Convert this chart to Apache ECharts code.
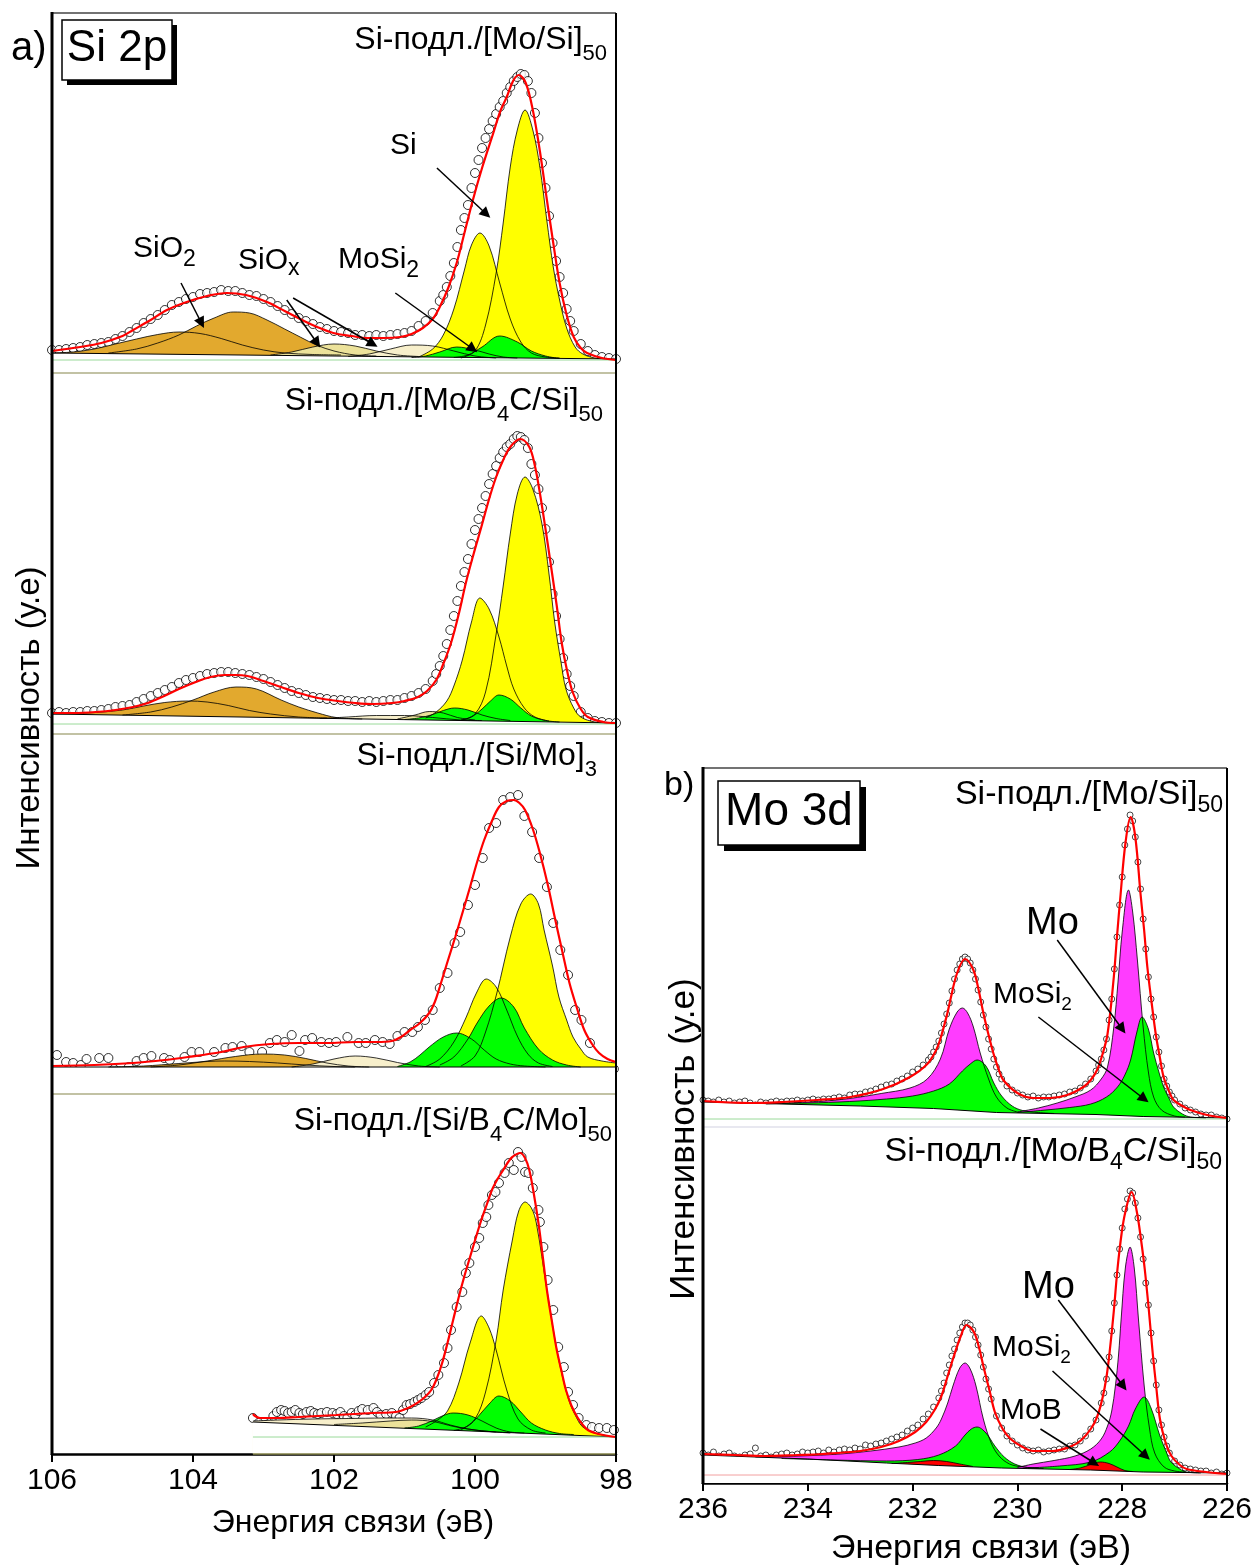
<!DOCTYPE html>
<html>
<head>
<meta charset="utf-8">
<script src="https://cdn.jsdelivr.net/npm/echarts@6/dist/echarts.min.js"></script>
<style>
html,body{margin:0;padding:0;background:#fff;}
#chart{width:1256px;height:1567px;}
</style>
</head>
<body>
<div id="chart"></div>
<script>
// ---------- Si 2p spectra, binding energy (eV) vs intensity (arb. units) ----------
// Panel a1: Si-substrate/[Mo/Si]50
const s1Points = [[106.0,23],[105.9,23],[105.8,24],[105.7,25],[105.6,26],[105.5,28],[105.4,29],[105.3,30],[105.2,31],[105.1,34],[105.0,37],[104.9,41],[104.8,45],[104.7,50],[104.6,54],[104.5,58],[104.4,63],[104.3,68],[104.2,71],[104.1,74],[104.0,76],[103.9,79],[103.8,80],[103.7,81],[103.6,83],[103.5,82],[103.4,82],[103.3,80],[103.2,78],[103.1,77],[103.0,74],[102.9,71],[102.8,67],[102.7,63],[102.6,59],[102.5,55],[102.4,52],[102.3,49],[102.2,46],[102.1,44],[102.0,42],[101.9,41],[101.8,40],[101.7,38],[101.6,38],[101.5,37],[101.4,38],[101.3,37],[101.2,38],[101.1,39],[101.0,40],[100.9,42],[100.8,47],[100.7,52],[100.6,60],[100.5,72],[100.45,78],[100.4,86],[100.35,97],[100.3,110],[100.25,126],[100.2,143],[100.15,155],[100.1,168],[100.05,185],[100.0,200],[99.95,213],[99.9,225],[99.85,235],[99.8,244],[99.75,252],[99.7,259],[99.65,266],[99.6,272],[99.55,280],[99.5,286],[99.45,292],[99.4,296],[99.35,299],[99.3,298],[99.25,292],[99.2,280],[99.15,260],[99.1,235],[99.05,210],[99.0,185],[98.95,157],[98.9,130],[98.85,112],[98.8,96],[98.75,80],[98.7,64],[98.65,52],[98.6,42],[98.5,29],[98.4,22],[98.3,18],[98.2,16],[98.1,15],[98.0,14]];
const s1Fit = [[106.0,22],[105.6,26],[105.3,30],[105.0,37],[104.85,43],[104.6,53],[104.37,63],[104.09,71],[103.8,77],[103.52,80],[103.25,78],[102.95,71],[102.7,62],[102.48,54],[102.24,46],[102.01,40],[101.75,37],[101.53,35],[101.3,35],[101.06,36],[100.9,39],[100.74,45],[100.6,54],[100.5,66],[100.38,85],[100.26,110],[100.15,140],[100.03,173],[99.9,205],[99.74,240],[99.64,262],[99.55,276],[99.46,292],[99.38,298],[99.28,290],[99.18,263],[99.08,222],[98.98,173],[98.89,130],[98.8,90],[98.7,58],[98.6,36],[98.5,25],[98.41,20],[98.2,15],[98.0,13]];
const s1Baseline = [[106,20],[98,14]];
const s1SiO2a = [[106.0,20],[105.7,21],[105.4,24],[105.1,29],[104.8,34],[104.5,38.5],[104.2,41],[103.9,39.5],[103.6,34.5],[103.3,28],[103.0,23],[102.7,20],[102.3,18.5],[101.9,18]];
const s1SiO2b = [[105.2,20],[104.8,24],[104.5,30],[104.2,38],[103.95,47],[103.7,55],[103.43,61],[103.2,60],[102.95,53],[102.7,44],[102.48,36],[102.25,28],[102.0,22],[101.7,18],[101.4,17]];
const s1SiOxA = [[102.9,18],[102.6,21],[102.3,26],[102.0,29],[101.7,27],[101.4,22],[101.1,18],[100.8,16.5]];
const s1SiOxB = [[101.8,16.5],[101.5,19],[101.2,24],[100.9,28],[100.6,27],[100.3,22],[100.0,17],[99.7,15]];
const s1Si32 = [[100.2,15],[100.0,22],[99.85,48],[99.7,100],[99.6,150],[99.5,206],[99.4,243],[99.29,263],[99.18,243],[99.08,206],[98.98,152],[98.89,106],[98.8,73],[98.7,45],[98.58,26],[98.47,19],[98.3,15],[98.1,14]];
const s1Si12 = [[100.8,16],[100.6,24],[100.45,38],[100.3,64],[100.15,103],[100.05,128],[99.93,140],[99.8,127],[99.65,90],[99.5,54],[99.35,31],[99.2,20],[99.0,16],[98.8,15]];
const s1MoSi2a = [[100.9,15.5],[100.7,17],[100.5,21],[100.26,26],[100.0,23],[99.8,19],[99.6,16],[99.4,15]];
const s1MoSi2b = [[100.3,15.5],[100.1,18],[99.9,26],[99.65,37],[99.4,31],[99.2,22],[99.0,17],[98.8,14.5]];
const s1Rules = [[[106,13],[98,13]], [[106,0],[98,0]]];
const s1Arrows = [[[100.54,205],[99.84,159]], [[104.17,90],[103.88,50]], [[102.67,73],[102.24,30]], [[102.58,75],[101.45,29]], [[101.13,80],[100.03,24]]];

// Panel a2: Si-substrate/[Mo/B4C/Si]50
const s2Points = [[106.0,21],[105.9,22],[105.8,21],[105.7,22],[105.6,22],[105.5,23],[105.4,23],[105.3,24],[105.2,25],[105.1,27],[105.0,28],[104.9,29],[104.8,32],[104.7,35],[104.6,38],[104.5,41],[104.4,44],[104.3,47],[104.2,51],[104.1,54],[104.0,56],[103.9,58],[103.8,60],[103.7,61],[103.6,62],[103.5,62],[103.4,61],[103.3,60],[103.2,59],[103.1,57],[103.0,55],[102.9,52],[102.8,49],[102.7,46],[102.6,43],[102.5,41],[102.4,39],[102.3,37],[102.2,36],[102.1,35],[102.0,34],[101.9,34],[101.8,33],[101.7,33],[101.6,32],[101.5,33],[101.4,32],[101.3,33],[101.2,34],[101.1,34],[101.0,36],[100.9,38],[100.8,41],[100.7,45],[100.6,53],[100.55,60],[100.5,68],[100.45,78],[100.4,90],[100.35,104],[100.3,118],[100.25,133],[100.2,148],[100.15,162],[100.1,175],[100.05,190],[100.0,204],[99.95,215],[99.9,226],[99.85,238],[99.8,250],[99.75,260],[99.7,268],[99.65,276],[99.6,282],[99.55,287],[99.5,290],[99.45,295],[99.4,298],[99.35,297],[99.3,294],[99.25,286],[99.2,270],[99.15,259],[99.1,245],[99.05,226],[99.0,205],[98.95,172],[98.9,140],[98.85,118],[98.8,95],[98.75,76],[98.7,60],[98.65,48],[98.6,38],[98.5,22],[98.4,16],[98.3,13],[98.2,12],[98.1,11],[98.0,11]];
const s2Fit = [[106,21],[105.7,21],[105.38,22],[105.1,24],[104.85,27],[104.64,31],[104.44,37],[104.2,45],[103.96,52],[103.75,57],[103.55,59],[103.4,59],[103.23,58],[103.0,53],[102.75,47],[102.5,41],[102.23,36],[101.95,33],[101.7,31],[101.45,30],[101.18,31],[101.0,33],[100.81,37],[100.68,43],[100.55,54],[100.45,70],[100.34,91],[100.23,120],[100.13,151],[100.02,180],[99.91,207],[99.8,235],[99.7,257],[99.6,274],[99.5,287],[99.36,295],[99.23,287],[99.15,268],[99.08,241],[99.0,205],[98.92,167],[98.84,128],[98.77,91],[98.69,62],[98.61,41],[98.5,25],[98.4,17],[98.18,12],[98.0,11]];
const s2Baseline = [[106,20],[98,11]];
const s2SiO2a = [[106,20],[105.5,21],[105.0,24],[104.7,28],[104.4,31.5],[104.07,33],[103.8,32],[103.5,28.5],[103.2,23.5],[102.9,20],[102.5,17],[102.1,16]];
const s2SiO2b = [[105.0,19],[104.6,22],[104.3,27],[104.0,34],[103.7,42],[103.39,47],[103.1,45],[102.75,34],[102.5,27],[102.23,21],[101.97,16.5],[101.6,15]];
const s2SiOxA = [[102.2,15.5],[101.8,17],[101.4,18.5],[101.0,18.5],[100.6,16.5],[100.2,14],[99.9,13.5]];
const s2SiOxB = [[101.1,15],[100.85,19],[100.65,22.5],[100.45,21],[100.25,16.5],[100.0,14]];
const s2Si32 = [[100.2,13.5],[100.0,20],[99.85,42],[99.7,100],[99.6,148],[99.5,200],[99.4,240],[99.29,257],[99.18,245],[99.05,210],[98.95,160],[98.87,112],[98.78,72],[98.71,45],[98.6,26],[98.5,17],[98.3,12],[98.1,11]];
const s2Si12 = [[100.7,16],[100.55,22],[100.4,33],[100.3,48],[100.18,74],[100.05,112],[99.93,136],[99.8,125],[99.66,97],[99.55,68],[99.45,45],[99.3,26],[99.15,17],[98.95,13]];
const s2MoSi2a = [[101.0,14.5],[100.8,16],[100.6,19.5],[100.45,23.5],[100.29,26],[100.1,24],[99.9,19],[99.7,15.5],[99.5,13.5]];
const s2MoSi2b = [[100.2,14],[100.05,17],[99.9,25],[99.78,33],[99.66,39],[99.5,35],[99.35,26],[99.2,18],[99.0,13.5],[98.8,12]];
const s2Rules = [[[106,10],[98,10]], [[106,0],[98,0]]];

// Panel a3: Si-substrate/[Si/Mo]3
const s3Points = [[105.93,39],[105.80,32],[105.70,31],[105.59,29],[105.51,35],[105.33,36],[105.20,36],[105.12,25],[104.91,27],[104.80,33],[104.70,36],[104.59,38],[104.41,36],[104.33,34],[104.12,37],[104.02,42],[103.91,42],[103.70,42],[103.54,46],[103.44,47],[103.31,48],[103.20,42],[103.02,42],[102.91,51],[102.81,54],[102.70,52],[102.60,59],[102.49,43],[102.41,54],[102.31,56],[102.18,52],[102.07,51],[101.97,52],[101.81,57],[101.65,51],[101.55,51],[101.42,54],[101.31,52],[101.21,50],[101.10,58],[101.00,62],[100.89,62],[100.81,67],[100.71,74],[100.60,84],[100.50,106],[100.39,121],[100.29,151],[100.21,162],[100.10,189],[100.00,209],[99.89,236],[99.80,266],[99.70,271],[99.60,294],[99.50,297],[99.39,299],[99.30,278],[99.19,262],[99.09,236],[98.98,207],[98.89,171],[98.79,144],[98.68,119],[98.58,84],[98.49,74],[98.37,51],[98.20,25],[98.03,25]];
const s3Fit = [[106,28],[105.4,29],[104.85,31],[104.4,34],[104.07,37],[103.6,42],[103.28,47],[102.9,50],[102.5,51],[102.1,51],[101.7,52],[101.4,52],[101.18,53],[101.05,57],[100.92,64],[100.78,71],[100.65,81],[100.57,92],[100.5,107],[100.4,130],[100.28,157],[100.17,183],[100.07,207],[99.97,232],[99.87,254],[99.76,273],[99.66,287],[99.55,293],[99.45,294],[99.37,291],[99.29,284],[99.18,265],[99.08,241],[98.97,210],[98.87,177],[98.76,142],[98.66,111],[98.55,85],[98.45,64],[98.34,50],[98.24,41],[98.12,35],[98.0,32]];
const s3Baseline = [[106,27],[98,27]];
const s3SiO2a = [[105.2,27],[104.7,28],[104.2,30.5],[103.8,32.5],[103.55,33],[103.2,32.5],[102.8,31],[102.4,29],[102.0,27.5],[101.7,27]];
const s3SiO2b = [[104.6,27],[104.2,29],[103.8,33],[103.4,37.5],[103.02,40],[102.7,39],[102.4,35.5],[102.1,31],[101.8,28],[101.5,27]];
const s3SiOx = [[102.6,27],[102.3,30],[102.0,35],[101.7,38],[101.4,36],[101.1,31.5],[100.8,28],[100.5,27]];
const s3Si32 = [[100.2,28],[100.0,38],[99.85,62],[99.69,101],[99.5,157],[99.35,190],[99.21,200],[99.1,190],[99.02,164],[98.9,128],[98.81,97],[98.7,74],[98.61,57],[98.5,45],[98.4,37],[98.2,33],[98.0,31]];
const s3Si12 = [[100.7,27.5],[100.5,35],[100.3,52],[100.13,76],[99.98,101],[99.84,115],[99.7,107],[99.55,84],[99.4,58],[99.25,40],[99.1,31],[98.9,27.5]];
const s3MoSi2a = [[101.1,27.5],[100.92,32],[100.78,39],[100.65,47],[100.45,57],[100.26,61],[100.05,55],[99.87,44],[99.7,35],[99.5,30],[99.3,28],[99.0,27]];
const s3MoSi2b = [[100.5,29],[100.3,37],[100.1,55],[99.97,71],[99.8,88],[99.63,96],[99.45,87],[99.3,66],[99.1,45],[98.9,34],[98.7,29],[98.5,27]];
const s3Rules = [[[106,0],[98,0]]];

// Panel a4: Si-substrate/[Si/B4C/Mo]50
const s4Points = [[103.15,36],[103.07,31],[102.99,27],[102.95,29],[102.91,31],[102.86,38],[102.81,42],[102.75,44],[102.70,43],[102.65,41],[102.60,42],[102.55,44],[102.49,41],[102.44,40],[102.39,42],[102.33,43],[102.28,41],[102.23,40],[102.18,41],[102.10,42],[102.02,41],[101.96,40],[101.91,42],[101.86,38],[101.81,36],[101.75,41],[101.70,39],[101.65,43],[101.60,45],[101.52,44],[101.44,46],[101.39,42],[101.34,39],[101.26,40],[101.18,41],[101.12,38],[101.07,36],[101.02,44],[100.97,49],[100.92,50],[100.86,52],[100.81,54],[100.76,56],[100.70,59],[100.65,62],[100.58,71],[100.52,79],[100.44,91],[100.39,106],[100.34,124],[100.26,147],[100.18,162],[100.13,181],[100.08,191],[100.00,207],[99.94,216],[99.89,231],[99.84,237],[99.81,249],[99.76,259],[99.71,262],[99.66,271],[99.58,281],[99.52,291],[99.45,284],[99.39,302],[99.34,297],[99.29,282],[99.24,281],[99.18,266],[99.10,244],[99.08,232],[99.03,207],[98.97,174],[98.89,144],[98.82,107],[98.74,87],[98.68,62],[98.61,49],[98.53,36],[98.42,29],[98.34,27],[98.24,26],[98.13,26],[98.03,24]];
const s4Fit = [[103.15,40],[103.12,38],[103.05,36],[102.8,36],[102.5,37],[101.97,39],[101.45,41],[101.12,42],[100.92,47],[100.8,52],[100.71,57],[100.62,64],[100.55,74],[100.47,90],[100.39,111],[100.31,134],[100.23,157],[100.15,178],[100.07,197],[99.99,216],[99.91,234],[99.83,250],[99.76,264],[99.68,275],[99.6,284],[99.53,292],[99.47,297],[99.36,301],[99.29,296],[99.23,284],[99.17,262],[99.1,231],[99.04,198],[98.98,164],[98.91,133],[98.84,104],[98.77,82],[98.71,64],[98.63,48],[98.55,37],[98.47,29],[98.4,24],[98.3,21],[98.18,19],[98.0,17]];
const s4Baseline = [[103.15,32],[98,17]];
const s4SiOxA = [[103.15,33],[102.8,34],[102.3,35],[101.8,35.5],[101.3,36],[100.9,36],[100.6,34],[100.35,29],[100.1,25],[99.8,22.5],[99.5,21]];
const s4SiOxB = [[102.0,29.5],[101.6,31],[101.2,33],[100.9,34],[100.6,32.5],[100.3,27.5],[100.0,24],[99.7,22]];
const s4Si32 = [[100.2,24],[100.0,35],[99.85,62],[99.7,114],[99.6,164],[99.47,214],[99.38,243],[99.29,252],[99.2,246],[99.13,231],[98.98,164],[98.82,97],[98.67,54],[98.55,35],[98.47,27],[98.3,21],[98.1,18]];
const s4Si12 = [[100.7,27],[100.55,33],[100.39,43],[100.23,71],[100.07,111],[99.91,138],[99.8,126],[99.7,104],[99.55,64],[99.39,35],[99.2,24],[99.0,21]];
const s4MoSi2a = [[101.0,26],[100.8,28],[100.6,33.5],[100.45,38.5],[100.31,41],[100.1,39],[99.9,33],[99.7,26],[99.5,22],[99.3,21]];
const s4MoSi2b = [[100.3,23.5],[100.1,28],[99.95,38],[99.8,50],[99.66,58],[99.5,53],[99.35,42],[99.2,31],[99.0,24],[98.8,20.5],[98.6,19.5]];
const s4Rules = [[[103.15,17],[98,17]], [[103.15,0],[98,0]]];

// ---------- Mo 3d spectra ----------
// Panel b1: Si-substrate/[Mo/Si]50
const r1Points = [[236.0,27],[235.9,26],[235.8,25],[235.7,27],[235.6,25],[235.5,26],[235.4,24],[235.3,25],[235.2,26],[235.1,24],[235.0,22],[234.9,25],[234.8,24],[234.7,25],[234.6,26],[234.5,25],[234.4,26],[234.3,26],[234.2,27],[234.1,26],[234.0,27],[233.9,28],[233.8,27],[233.7,28],[233.6,28],[233.5,29],[233.4,30],[233.3,29],[233.2,32],[233.1,33],[233.0,33],[232.9,35],[232.8,36],[232.7,38],[232.6,40],[232.5,42],[232.4,43],[232.3,46],[232.2,48],[232.1,51],[232.0,55],[231.9,58],[231.8,62],[231.7,67],[231.65,70],[231.6,75],[231.55,80],[231.5,86],[231.45,94],[231.4,103],[231.35,113],[231.3,124],[231.25,136],[231.2,148],[231.15,157],[231.1,163],[231.05,168],[231.0,170],[230.95,168],[230.9,164],[230.85,157],[230.8,148],[230.75,137],[230.7,125],[230.65,112],[230.6,100],[230.55,88],[230.5,78],[230.45,68],[230.4,60],[230.35,53],[230.3,48],[230.2,41],[230.1,37],[230.0,34],[229.9,32],[229.8,30],[229.7,31],[229.6,29],[229.5,30],[229.4,30],[229.3,31],[229.2,32],[229.1,33],[229.0,35],[228.9,36],[228.8,39],[228.7,43],[228.6,48],[228.5,56],[228.45,62],[228.4,68],[228.35,77],[228.3,88],[228.25,107],[228.2,128],[228.15,158],[228.1,190],[228.05,222],[228.0,250],[227.95,282],[227.9,298],[227.85,312],[227.8,306],[227.75,290],[227.7,265],[227.65,238],[227.6,208],[227.55,178],[227.5,150],[227.45,128],[227.4,110],[227.35,90],[227.3,75],[227.25,61],[227.2,48],[227.15,41],[227.1,35],[227.05,31],[227.0,27],[226.9,23],[226.8,19],[226.7,17],[226.6,15],[226.5,13],[226.4,12],[226.3,12],[226.2,10],[226.1,9],[226.0,8]];
const r1Fit = [[236,26],[235.1,24],[234.47,25],[233.82,27],[233.19,30],[232.56,38],[232.05,50],[231.72,63],[231.55,77],[231.47,88],[231.34,113],[231.28,127],[231.15,154],[231.0,168],[230.84,157],[230.74,137],[230.65,114],[230.55,92],[230.46,74],[230.36,58],[230.27,47],[230.0,34],[229.7,29],[229.37,29],[229.05,32],[228.74,40],[228.6,47],[228.48,57],[228.38,72],[228.28,93],[228.16,150],[228.1,190],[228.03,233],[227.94,283],[227.84,310],[227.75,290],[227.65,233],[227.58,196],[227.52,160],[227.44,125],[227.36,93],[227.28,69],[227.21,50],[227.1,35],[227.02,27],[226.85,21],[226.7,17],[226.38,12],[226.0,9]];
const r1Baseline = [[236,25],[233,21],[231.6,18.5],[230.4,14.5],[228.5,12.5],[227.6,10.5],[226,9]];
const r1Mo32 = [[234.8,23],[234.4,24],[233.8,25.5],[233.2,28.5],[232.6,33.5],[232.05,39],[231.72,48],[231.47,68],[231.3,98],[231.15,115],[231.05,119],[230.95,114],[230.84,100],[230.71,74],[230.55,48],[230.4,30],[230.2,19],[230.0,15]];
const r1MoSi232 = [[234.8,23.5],[234.0,24],[233.2,25.5],[232.5,28],[232.0,31],[231.6,36],[231.3,43],[231.05,56],[230.9,63],[230.77,67],[230.6,61],[230.45,44],[230.3,31],[230.1,21],[229.9,16.5],[229.6,14.5],[229.3,13.5]];
const r1Mo52 = [[230.0,15],[229.6,19],[229.24,24],[228.9,30],[228.6,37],[228.4,48],[228.28,60],[228.16,100],[228.08,145],[228.0,195],[227.88,237],[227.8,215],[227.71,167],[227.6,100],[227.5,55],[227.4,30],[227.25,17],[227.0,11],[226.8,10]];
const r1MoSi252 = [[230.0,14.5],[229.56,16.5],[229.0,19.5],[228.6,23],[228.3,30],[228.09,40],[227.95,52],[227.84,67],[227.72,95],[227.62,110],[227.5,98],[227.4,74],[227.3,55],[227.21,40],[227.1,28],[227.02,20],[226.85,13],[226.7,10],[226.4,9]];
const r1Rules = [[[236,8],[226,8]], [[236,0],[226,0]]];
const r1Arrows = [[[229.24,187],[228.0,98]], [[229.6,110],[227.58,28]]];

// Panel b2: Si-substrate/[Mo/B4C/Si]50
const r2Points = [[236.0,30],[235.9,28],[235.8,31],[235.7,27],[235.6,29],[235.5,30],[235.4,27],[235.3,26],[235.2,28],[235.1,29],[235.0,35],[234.9,27],[234.8,28],[234.7,26],[234.6,28],[234.5,29],[234.4,30],[234.3,28],[234.2,29],[234.1,31],[234.0,30],[233.9,31],[233.8,32],[233.7,30],[233.6,33],[233.5,31],[233.4,33],[233.3,34],[233.2,33],[233.1,35],[233.0,34],[232.9,38],[232.8,37],[232.7,39],[232.6,40],[232.5,42],[232.4,44],[232.3,46],[232.2,48],[232.1,52],[232.0,55],[231.9,58],[231.8,64],[231.7,69],[231.6,76],[231.5,85],[231.45,92],[231.4,100],[231.35,110],[231.3,118],[231.25,127],[231.2,134],[231.15,143],[231.1,150],[231.05,156],[231.0,160],[230.95,160],[230.9,158],[230.85,153],[230.8,146],[230.75,138],[230.7,128],[230.65,116],[230.6,104],[230.55,94],[230.5,84],[230.4,67],[230.3,55],[230.2,47],[230.1,42],[230.0,38],[229.9,35],[229.8,33],[229.7,32],[229.6,33],[229.5,31],[229.4,32],[229.3,33],[229.2,34],[229.1,34],[229.0,37],[228.9,38],[228.8,42],[228.7,47],[228.6,54],[228.5,63],[228.4,80],[228.35,90],[228.3,104],[228.25,126],[228.2,152],[228.15,180],[228.1,208],[228.05,234],[228.0,255],[227.95,274],[227.9,284],[227.85,292],[227.8,290],[227.75,280],[227.7,265],[227.65,246],[227.6,224],[227.55,200],[227.5,178],[227.45,150],[227.4,122],[227.35,98],[227.3,73],[227.25,58],[227.2,46],[227.15,37],[227.1,30],[227.0,22],[226.9,18],[226.8,15],[226.7,14],[226.6,13],[226.5,12],[226.4,12],[226.3,10],[226.2,11],[226.1,9],[226.0,10]];
const r2Fit = [[236,29],[235.4,28],[234.82,27],[234.2,28],[233.72,29],[233.0,32],[232.6,36],[232.26,42],[231.95,51],[231.74,61],[231.58,73],[231.45,87],[231.33,107],[231.23,124],[231.08,147],[230.97,158],[230.83,151],[230.73,135],[230.65,117],[230.53,92],[230.43,71],[230.28,54],[230.13,44],[229.9,36],[229.7,32],[229.32,32],[228.96,37],[228.78,43],[228.6,54],[228.48,66],[228.38,84],[228.3,106],[228.24,131],[228.16,172],[228.09,214],[228.01,250],[227.94,271],[227.82,291],[227.72,271],[227.64,243],[227.57,214],[227.49,172],[227.42,131],[227.35,96],[227.28,64],[227.17,40],[227.06,27],[226.9,18],[226.77,14],[226.4,11],[226.0,9]];
const r2Baseline = [[236,28],[234,24],[232.5,20],[231.5,17.5],[230.3,15],[228.6,13],[227.6,11],[226,10]];
const r2Mo32 = [[235.0,26],[234.47,26.5],[233.9,27.5],[233.38,29],[232.8,32],[232.26,36],[231.95,40],[231.74,45],[231.55,55],[231.45,64],[231.33,80],[231.23,97],[231.1,115],[231.0,120],[230.9,114],[230.79,97],[230.65,64],[230.5,40],[230.35,27],[230.15,19],[229.9,16],[229.6,15]];
const r2MoSi232 = [[234.5,24.5],[233.5,23],[232.5,22],[231.9,23.5],[231.5,28],[231.18,37],[231.0,48],[230.88,54],[230.77,56],[230.6,50],[230.43,37],[230.25,26],[230.05,19],[229.8,15.5],[229.5,14.5]];
const r2MoB32 = [[232.4,19.5],[232.1,20.5],[231.85,21.5],[231.6,22.5],[231.35,21.5],[231.1,19],[230.85,16.5]];
const r2Mo52 = [[230.0,15.5],[229.7,19],[229.3,22.5],[228.9,27],[228.6,34],[228.4,44],[228.28,57],[228.2,72],[228.13,97],[228.07,128],[228.02,164],[227.94,215],[227.85,236],[227.77,215],[227.69,164],[227.58,97],[227.48,55],[227.38,30],[227.2,16],[227.0,12],[226.8,11]];
const r2MoSi252 = [[229.8,15],[229.2,17],[228.6,21],[228.24,31],[228.05,42],[227.88,57],[227.75,74],[227.58,86],[227.45,75],[227.28,47],[227.15,30],[227.07,21],[226.9,14],[226.77,11],[226.5,10]];
const r2MoB52 = [[229.0,13.5],[228.8,15],[228.6,18.5],[228.42,21],[228.25,19.5],[228.1,16],[227.95,12.5],[227.8,11.5]];
const r2Rules = [[[236,8],[226,8]]];
const r2Arrows = [[[229.22,183],[227.98,97]], [[229.33,112],[227.55,27]], [[229.56,54],[228.53,20]]];

// ---------- styling ----------
const FONT = '"Liberation Sans", Arial, Helvetica, sans-serif';
const ORANGE = '#e2a92e', KHAKI = '#ece29a', CREAM = '#f7efcb', YELLOW = '#ffff00',
      GREEN = '#00ff00', MAGENTA = '#ff3cff', RED = '#ff0000';
const OLIVE = '#85854a', LGREEN = '#9ada9a', LGRAY = '#d2d2e2', PINK = '#f2a0a0';

const grids = [
  {left: 52, top: 13, width: 564, height: 360},
  {left: 52, top: 373, width: 564, height: 361},
  {left: 52, top: 734, width: 564, height: 360},
  {left: 52, top: 1094, width: 564, height: 360},
  {left: 703, top: 768, width: 524, height: 359},
  {left: 703, top: 1127, width: 524, height: 356}
];

const panels = [
  {comps: [[s1SiO2a, ORANGE], [s1SiO2b, ORANGE], [s1SiOxA, KHAKI], [s1SiOxB, CREAM], [s1Si32, YELLOW], [s1Si12, YELLOW], [s1MoSi2a, GREEN], [s1MoSi2b, GREEN]],
   base: s1Baseline, rules: [[s1Rules[0], LGREEN, 1], [s1Rules[1], OLIVE, 1.2]], pts: s1Points, fit: s1Fit, arrows: s1Arrows, size: 9},
  {comps: [[s2SiO2a, ORANGE], [s2SiO2b, ORANGE], [s2SiOxA, CREAM], [s2SiOxB, KHAKI], [s2Si32, YELLOW], [s2Si12, YELLOW], [s2MoSi2a, GREEN], [s2MoSi2b, GREEN]],
   base: s2Baseline, rules: [[s2Rules[0], LGREEN, 1], [s2Rules[1], OLIVE, 1.2]], pts: s2Points, fit: s2Fit, arrows: null, size: 9},
  {comps: [[s3SiO2a, ORANGE], [s3SiO2b, ORANGE], [s3SiOx, CREAM], [s3Si32, YELLOW], [s3Si12, YELLOW], [s3MoSi2a, GREEN], [s3MoSi2b, GREEN]],
   base: s3Baseline, rules: [[s3Rules[0], OLIVE, 1.2]], pts: s3Points, fit: s3Fit, arrows: null, size: 9},
  {comps: [[s4SiOxA, CREAM], [s4SiOxB, KHAKI], [s4Si32, YELLOW], [s4Si12, YELLOW], [s4MoSi2a, GREEN], [s4MoSi2b, GREEN]],
   base: s4Baseline, rules: [[s4Rules[0], LGREEN, 1], [s4Rules[1], OLIVE, 1.4]], pts: s4Points, fit: s4Fit, arrows: null, size: 9},
  {comps: [[r1Mo32, MAGENTA], [r1MoSi232, GREEN], [r1Mo52, MAGENTA], [r1MoSi252, GREEN]],
   base: r1Baseline, rules: [[r1Rules[0], LGREEN, 1], [r1Rules[1], LGRAY, 1.2]], pts: r1Points, fit: r1Fit, arrows: r1Arrows, size: 6},
  {comps: [[r2Mo32, MAGENTA], [r2MoSi232, GREEN], [r2MoB32, RED], [r2Mo52, MAGENTA], [r2MoSi252, GREEN], [r2MoB52, RED]],
   base: r2Baseline, rules: [[r2Rules[0], PINK, 1]], pts: r2Points, fit: r2Fit, arrows: r2Arrows, size: 6}
];

const series = [];
panels.forEach((p, g) => {
  const ax = {xAxisIndex: g, yAxisIndex: g, silent: true, animation: false};
  p.comps.forEach(([data, color]) => {
    series.push(Object.assign({type: 'line', data, smooth: 0.35, symbol: 'none',
      lineStyle: {color: '#000', width: 0.8}, areaStyle: {color, opacity: 1}}, ax));
  });
  // background line; its white area hides the component fills below it
  const mask = Object.assign({type: 'line', data: p.base, symbol: 'none',
    lineStyle: {color: '#000', width: 1}, areaStyle: {color: '#fff', opacity: 1}}, ax);
  if (p.arrows) {
    mask.markLine = {silent: true, animation: false, symbol: ['none', 'triangle'], symbolSize: 11,
      label: {show: false}, lineStyle: {color: '#000', width: 1.5, type: 'solid'},
      emphasis: {disabled: true},
      data: p.arrows.map(a => [{coord: a[0]}, {coord: a[1]}])};
  }
  series.push(mask);
  p.rules.forEach(([data, color, w]) => {
    series.push(Object.assign({type: 'line', data, symbol: 'none', clip: false,
      lineStyle: {color, width: w}}, ax));
  });
  series.push(Object.assign({type: 'scatter', data: p.pts, symbol: 'circle', symbolSize: p.size,
    itemStyle: {color: '#fff', borderColor: '#000', borderWidth: p.size > 7 ? 1 : 0.9}}, ax));
  series.push(Object.assign({type: 'line', data: p.fit, smooth: 0.35, symbol: 'none',
    lineStyle: {color: RED, width: 2.2}}, ax));
});

function xAxisFor(g) {
  const left = g < 4;
  const shown = g === 3 || g === 5;
  const base = {type: 'value', gridIndex: g, inverse: true, min: left ? 98 : 226, max: left ? 106 : 236,
    interval: 2, splitLine: {show: false}};
  if (!shown) return Object.assign(base, {show: false});
  return Object.assign(base, {
    axisLine: {show: true, onZero: false, lineStyle: {color: '#000', width: 2.5}},
    axisTick: {show: true, inside: false, length: 8, lineStyle: {color: '#000', width: 2}},
    axisLabel: {show: true, color: '#000', fontSize: 30, fontFamily: FONT, margin: 12}
  });
}

function txt(x, y, text, o) {
  o = o || {};
  const size = o.size || 29, sub = o.sub || 20, lh = o.lh || size + 6;
  const align = o.align || 'left';
  return {type: 'text', x, y, z: 100, silent: true, rotation: o.rot || 0,
    style: {text, align, verticalAlign: 'middle', textAlign: align, textVerticalAlign: 'middle',
      fill: '#000', font: size + 'px ' + FONT,
      rich: {
        m: {fontSize: size, fontFamily: FONT, lineHeight: lh, fill: '#000'},
        s: {fontSize: sub, fontFamily: FONT, fill: '#000', verticalAlign: 'bottom'}
      }}};
}
function seg(x1, y1, x2, y2, w, c) {
  return {type: 'line', z: 100, silent: true, shape: {x1, y1, x2, y2}, style: {stroke: c || '#000', lineWidth: w}};
}
function box(x, y, w, h, off) {
  return [
    {type: 'rect', z: 99, silent: true, shape: {x: x + off, y: y + off, width: w, height: h}, style: {fill: '#000'}},
    {type: 'rect', z: 100, silent: true, shape: {x, y, width: w, height: h}, style: {fill: '#fff', stroke: '#000', lineWidth: 1.5}}
  ];
}

const graphics = [
  // frames
  seg(52, 13, 616, 13, 1.5, '#444'), seg(52, 12, 52, 1455, 3), seg(616, 13, 616, 1455, 2),
  seg(703, 768, 1227, 768, 1.5, '#444'), seg(703, 767, 703, 1484, 3), seg(1227, 768, 1227, 1484, 2),
  ...box(62, 20, 110, 60, 5),
  ...box(718, 781, 142, 64, 6),
  txt(117, 49, 'Si 2p', {size: 44, align: 'center'}),
  txt(789, 812, 'Mo 3d', {size: 46, align: 'center'}),
  txt(11, 49, 'a)', {size: 40}),
  txt(664, 786, 'b)', {size: 34}),
  // sample titles
  txt(607, 40, '{m|Si-подл./[Mo/Si]}{s|50}', {align: 'right', size: 32, sub: 22, lh: 49}),
  txt(603, 401, '{m|Si-подл./[Mo/B}{s|4}{m|C/Si]}{s|50}', {align: 'right', size: 32, sub: 22, lh: 49}),
  txt(597, 756, '{m|Si-подл./[Si/Mo]}{s|3}', {align: 'right', size: 32, sub: 22, lh: 49}),
  txt(612, 1121, '{m|Si-подл./[Si/B}{s|4}{m|C/Mo]}{s|50}', {align: 'right', size: 32, sub: 22, lh: 49}),
  txt(1223, 795, '{m|Si-подл./[Mo/Si]}{s|50}', {align: 'right', size: 34, sub: 23, lh: 45}),
  txt(1222, 1152, '{m|Si-подл./[Mo/B}{s|4}{m|C/Si]}{s|50}', {align: 'right', size: 34, sub: 23, lh: 45}),
  // component labels
  txt(390, 146, 'Si', {size: 30}),
  txt(133, 249, '{m|SiO}{s|2}', {size: 30, sub: 23, lh: 45}),
  txt(238, 261, '{m|SiO}{s|x}', {size: 30, sub: 23, lh: 39}),
  txt(338, 260, '{m|MoSi}{s|2}', {size: 30, sub: 23, lh: 45}),
  txt(1026, 924, 'Mo', {size: 38}),
  txt(993, 995, '{m|MoSi}{s|2}', {size: 30, sub: 19, lh: 39}),
  txt(1022, 1288, 'Mo', {size: 38}),
  txt(992, 1348, '{m|MoSi}{s|2}', {size: 30, sub: 19, lh: 39}),
  txt(1000, 1411, 'MoB', {size: 30}),
  // axis titles
  txt(30, 718, 'Интенсивность (у.е)', {size: 33, align: 'center', rot: Math.PI / 2}),
  txt(684, 1139, 'Интенсивность (у.е)', {size: 35, align: 'center', rot: Math.PI / 2}),
  txt(353, 1523, 'Энергия связи (эВ)', {size: 32, align: 'center'}),
  txt(981, 1549, 'Энергия связи (эВ)', {size: 34, align: 'center'})
];

const chart = echarts.init(document.getElementById('chart'), null, {renderer: 'canvas'});
chart.setOption({
  animation: false,
  backgroundColor: '#fff',
  textStyle: {fontFamily: FONT},
  grid: grids.map(g => Object.assign({outerBoundsMode: 'none', containLabel: false}, g)),
  xAxis: grids.map((g, i) => xAxisFor(i)),
  yAxis: grids.map((g, i) => ({type: 'value', gridIndex: i, min: 0, max: g.height, show: false})),
  series,
  graphic: {elements: graphics}
});
</script>
</body>
</html>
